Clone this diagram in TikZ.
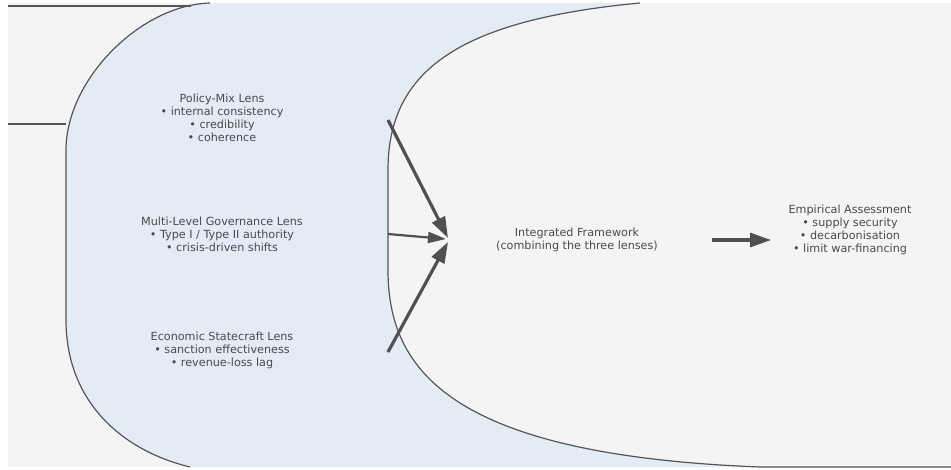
\documentclass[tikz,border=0pt]{standalone}
\usepackage{fontspec}
\setmainfont{DejaVu Sans}
\usetikzlibrary{arrows.meta}
\definecolor{bggray}{HTML}{F4F4F4}
\definecolor{lensblue}{HTML}{E3EBF6}
\definecolor{edgegray}{HTML}{555555}
\definecolor{txtgray}{HTML}{4A4A4A}
\definecolor{arrowgray}{HTML}{505050}
\begin{document}
\begin{tikzpicture}[x=1pt,y=-1pt,
  lbl/.style={align=center, text=txtgray, font=\fontsize{11.2}{13}\selectfont, inner sep=0pt},
  outline/.style={draw=edgegray, line width=1.2pt},
  flow/.style={draw=arrowgray, line width=3.2pt, -{Triangle[length=21pt,width=14pt]}},
  flowthin/.style={draw=arrowgray, line width=2.2pt, -{Triangle[length=18pt,width=11pt]}}]
\useasboundingbox (0,0) rectangle (951,469);
\fill[white] (0,0) rectangle (951,469);
\fill[bggray] (8,3) rectangle (951,467);
% blue lens region
\fill[lensblue] (210,3) .. controls (140,5) and (66,80) .. (66,150) -- (66,320)
  .. controls (66,400) and (120,450) .. (190,467) -- (951,467) -- (951,3) -- cycle;
\draw[outline] (210,3) .. controls (140,5) and (66,80) .. (66,150) -- (66,320)
  .. controls (66,400) and (120,450) .. (190,467);
% grey framework region
\fill[bggray] (951,3) -- (640,3) .. controls (460,20) and (388,70) .. (388,170) -- (388,270)
  .. controls (388,370) and (450,455) .. (760,467) -- (951,467) -- cycle;
\draw[outline] (640,3) .. controls (460,20) and (388,70) .. (388,170) -- (388,270)
  .. controls (388,370) and (450,455) .. (760,467) -- (951,467);
% left edge lines
\coordinate (lA) at (8,6);
\coordinate (lB) at (191,6);
\coordinate (lC) at (8,124);
\coordinate (lD) at (66,124);
\draw[outline] (lA) -- (lB);
\draw[outline] (lC) -- (lD);
% texts
\node[lbl] (pm) at (222,117.5) {Policy-Mix Lens\\• internal consistency\\• credibility\\• coherence};
\node[lbl] (mlg) at (222,234.5) {Multi-Level Governance Lens\\• Type I / Type II authority\\• crisis-driven shifts};
\node[lbl] (es) at (222,350.5) {Economic Statecraft Lens\\• sanction effectiveness\\• revenue-loss lag};
\node[lbl] (ifw) at (577,239.5) {Integrated Framework\\(combining the three lenses)};
\node[lbl] (ea) at (850,230) {Empirical Assessment\\• supply security\\• decarbonisation\\• limit war-financing};
% arrows
\coordinate (pmS) at (388,120);
\coordinate (pmT) at (448,238);
\coordinate (mlS) at (388,234);
\coordinate (mlT) at (446,239);
\coordinate (esS) at (388,352);
\coordinate (esT) at (448,242);
\coordinate (iaS) at (712,240);
\coordinate (iaT) at (771,240);
\draw[flow] (pmS) -- (pmT);
\draw[flowthin] (mlS) -- (mlT);
\draw[flow] (esS) -- (esT);
\draw[flow] (iaS) -- (iaT);
\end{tikzpicture}
\end{document}
